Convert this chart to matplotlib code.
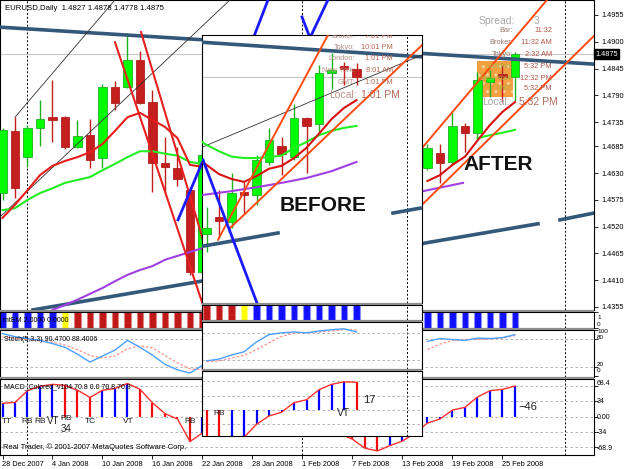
import numpy as np
import matplotlib
matplotlib.use("Agg")
import matplotlib.pyplot as plt
from matplotlib.patches import Rectangle

plt.rcParams['font.family'] = ['Liberation Sans', 'DejaVu Sans']

nan = np.nan
# ------------------------------------------------------------------ data
title_text = "EURUSD,Daily  1.4827 1.4878 1.4778 1.4875"
date_labels = ["28 Dec 2007", "4 Jan 2008", "10 Jan 2008", "16 Jan 2008", "22 Jan 2008",
               "28 Jan 2008", "1 Feb 2008", "7 Feb 2008", "13 Feb 2008", "19 Feb 2008", "25 Feb 2008"]
date_label_bars = [0, 4, 8, 12, 16, 20, 24, 28, 32, 36, 40]
month_separator_bars = [2, 24, 45]
price_ticks = [1.4955, 1.4900, 1.4845, 1.4790, 1.4735, 1.4685, 1.4630, 1.4575, 1.4520, 1.4465, 1.4410, 1.4355]
last_price = 1.4875

# main chart (AFTER): daily bars 28 Dec 2007 .. 26 Feb 2008 (bars hidden by the inset left empty)
main_open = [1.4589, 1.4717, 1.4663, 1.4723, 1.4745, 1.4745, 1.4684, 1.4709, 1.4661, 1.4807, 1.4807, 1.4863,
             1.4776, 1.4651, 1.4641, 1.4595, 1.4427] + [nan] * 17 + \
            [1.4641, 1.4671, 1.4653, 1.4727, 1.4713, 1.4817, 1.4834, 1.4827]
main_high = [1.4723, 1.4745, 1.4729, 1.4780, 1.4821, 1.4748, 1.4739, 1.4741, 1.4813, 1.4819, 1.4918, 1.4880,
             1.4801, 1.4704, 1.4684, 1.4602, 1.4678] + [nan] * 17 + \
            [1.4689, 1.4690, 1.4756, 1.4733, 1.4838, 1.4842, 1.4852, 1.4878]
main_low = [1.4575, 1.4579, 1.4643, 1.4686, 1.4694, 1.4680, 1.4682, 1.4641, 1.4641, 1.4760, 1.4805, 1.4772,
            1.4591, 1.4591, 1.4604, 1.4421, 1.4421] + [nan] * 17 + \
           [1.4636, 1.4610, 1.4647, 1.4673, 1.4702, 1.4787, 1.4776, 1.4778]
main_close = [1.4719, 1.4599, 1.4723, 1.4741, 1.4739, 1.4684, 1.4707, 1.4657, 1.4807, 1.4774, 1.4863, 1.4774,
              1.4651, 1.4643, 1.4618, 1.4427, 1.4667] + [nan] * 17 + \
             [1.4682, 1.4651, 1.4727, 1.4713, 1.4822, 1.4826, 1.4828, 1.4875]

red_ma_x = list(range(0, 17))
red_ma_y = [1.4538, 1.4565, 1.4595, 1.4626, 1.4645, 1.4655, 1.4663, 1.4673, 1.4690, 1.4717, 1.4745, 1.4754,
            1.4739, 1.4725, 1.4702, 1.4647, 1.4643]
red_ma2_x = list(range(34, 42))
red_ma2_y = [1.4614, 1.4626, 1.4647, 1.4664, 1.4697, 1.4729, 1.4756, 1.4776]
green_ma_x = list(range(0, 17))
green_ma_y = [1.4554, 1.4558, 1.4575, 1.4589, 1.4599, 1.4610, 1.4616, 1.4622, 1.4636, 1.4649, 1.4663, 1.4675,
              1.4675, 1.4670, 1.4666, 1.4653, 1.4649]
green_ma2_x = [38, 39, 40, 41]
green_ma2_y = [1.4702, 1.4708, 1.4713, 1.4719]
purple_ma_x = list(range(4, 17))
purple_ma_y = [1.4349, 1.4359, 1.4370, 1.4382, 1.4394, 1.4408, 1.4421, 1.4431, 1.4439, 1.4452, 1.4460, 1.4468, 1.4476]
purple_ma2_x = [33.64, 36.84]
purple_ma2_y = [1.4593, 1.4610]

trend_top_x = [-0.2, 47.32];      trend_top_y = [1.4930, 1.4854]
trend_low_x = [2.44, 42.84];      trend_low_y = [1.4349, 1.4526]
trend_low2_x = [44.6, 47.32];     trend_low2_y = [1.4534, 1.4548]
thin1_x = [1.0, 9.0];             thin1_y = [1.4745, 1.4986]
thin2_x = [-0.2, 18.2];           thin2_y = [1.4540, 1.4986]
steep1_x = [9.0, 16.04];          steep1_y = [1.4899, 1.4359]
steep2_x = [11.08, 16.04];        steep2_y = [1.4920, 1.4493]
chan1_x = [33.64, 43.56];         chan1_y = [1.4684, 1.4986]
chan2_x = [33.56, 47.32];         chan2_y = [1.4565, 1.4912]
zig1_x = [14.04, 15.96];          zig1_y = [1.4534, 1.4651]
zig2_x = [19.4, 21.24];           zig2_y = [1.4863, 1.4986]
zig3_x = [23.96, 24.6, 26.04];    zig3_y = [1.4951, 1.4908, 1.4986]
box_bars = [38.0, 40.84];         box_prices = [1.4787, 1.4860]

main_mtem = ['B'] * 5 + ['Y'] + ['R'] * 11 + [''] * 17 + ['B'] * 8
main_stoch_k = [93, 86, 82, 78, 71, 63, 48, 31, 44, 57, 78, 63, 46, 26, 14, 7, 24] + [nan] * 17 + \
               [76, 82, 80, 78, 83, 82, 84, 90.47]
main_stoch_d = [85, 83, 80, 77, 74, 68, 58, 45, 40, 44, 60, 66, 62, 45, 29, 16, 15] + [nan] * 17 + \
               [58, 70, 78, 80, 80, 81, 83, 88.40]
main_macd = [30, 32, 58, 68, 72, 70, 59, 43, 59, 63, 74, 61, 31, 7, -5, -55, -36] + [nan] * 10 + \
            [-38, -50, -70, -76, -64, -54, -36, -14, -5, 15, 21, 44, 58, 61, 68.4]
main_macd_col = list("BBBBBRRRBBBRRRRRB") + [''] * 10 + list("RRRRBBBBBBBBBBB")

# inset (BEFORE): 13 daily bars
ins_open = [1.4505, 1.4540, 1.4530, 1.4591, 1.4585, 1.4653, 1.4686, 1.4663, 1.4743, 1.4731, 1.4836, 1.4850, 1.4844]
ins_high = [1.4560, 1.4595, 1.4630, 1.4612, 1.4667, 1.4723, 1.4704, 1.4772, 1.4745, 1.4852, 1.4877, 1.4858, 1.4856]
ins_low = [1.4468, 1.4497, 1.4517, 1.4548, 1.4565, 1.4647, 1.4626, 1.4657, 1.4630, 1.4712, 1.4803, 1.4811, 1.4811]
ins_close = [1.4517, 1.4532, 1.4589, 1.4585, 1.4657, 1.4698, 1.4669, 1.4743, 1.4727, 1.4836, 1.4842, 1.4844, 1.4828]
ins_ma_x = [-0.36] + list(range(0, 13))
ins_red_y = [1.4653, 1.4647, 1.4628, 1.4618, 1.4612, 1.4624, 1.4639, 1.4645, 1.4661, 1.4682, 1.4711, 1.4741, 1.4764, 1.4780]
ins_green_y = [1.4694, 1.4688, 1.4675, 1.4664, 1.4661, 1.4661, 1.4663, 1.4666, 1.4682, 1.4694, 1.4708, 1.4717, 1.4723, 1.4727]
ins_purple_x = [-0.36, 2, 4, 6, 8, 10, 12]
ins_purple_y = [1.4585, 1.4593, 1.4601, 1.4610, 1.4620, 1.4634, 1.4653]
ins_top_x = [-0.36, 17.24];   ins_top_y = [1.4899, 1.4869]
ins_thin_x = [-0.28, 17.24];  ins_thin_y = [1.4684, 1.4873]
ins_chanA_x = [0.92, 9.72];   ins_chanA_y = [1.4493, 1.4914]
ins_chanB_x = [1.88, 17.24];  ins_chanB_y = [1.4517, 1.4893]
ins_low_x = [-0.28, 5.72];    ins_low_y = [1.4480, 1.4507]
ins_low2_x = [14.92, 17.08];  ins_low2_y = [1.4548, 1.4558]
ins_blue_x = [-0.28, 4.04];   ins_blue_y = [1.4657, 1.4363]
ins_separator_bar = 16
ins_mtem = ['R'] * 3 + ['Y'] + ['B'] * 9
ins_stoch_k = [18, 22, 31, 38, 60, 76, 80, 82, 80, 84, 87, 89, 82]
ins_stoch_d = [16, 18, 24, 30, 43, 58, 72, 79, 81, 82, 84, 87, 86]
ins_macd = [-70, -70, -68, -66, -35, -15, -6, 17, 24, 48, 61, 67, 66]
ins_macd_col = list("RRBBBBBBBBBBR")

# ------------------------------------------------------------------ styles
W, H = 625, 469
BULL, BULL_EDGE = '#00ff00', '#1fb01f'
BEAR, BEAR_EDGE = '#c41e1e', '#b02020'
COLS = {'B': '#1010ff', 'R': '#c01818', 'Y': '#ffff00'}
MCOLS = {'B': '#0000ff', 'R': '#ee1010'}
GRID = dict(color='#a8a8a8', lw=0.6, ls=(0, (3, 3)))
SEP = dict(color='black', lw=0.7, ls=(0, (2, 2)))

fig = plt.figure(figsize=(W / 100, H / 100), dpi=100)
fig.patch.set_facecolor('white')


def px_axes(x0, y0, x1, y1, z=0):
    ax = fig.add_axes([x0 / W, 1 - y1 / H, (x1 - x0) / W, (y1 - y0) / H])
    ax.set_zorder(z)
    ax.set_xticks([]); ax.set_yticks([])
    for s in ax.spines.values():
        s.set_linewidth(0.8); s.set_color('black')
    ax.set_facecolor('white')
    return ax


def band(x0, y0, x1, y1, z):
    fig.add_artist(Rectangle((x0 / W, 1 - y1 / H), (x1 - x0) / W, (y1 - y0) / H,
                             transform=fig.transFigure, facecolor='#8c8c8c', edgecolor='none', zorder=z))


def ftext(x, y, s, z=3, **kw):
    kw.setdefault('va', 'center')
    kw.setdefault('ha', 'left')
    kw.setdefault('fontsize', 5.3)
    return fig.text(x / W, 1 - y / H, s, zorder=z, **kw)


def candles(ax, o, h, l, c, width=0.66):
    for x, oo, hh, ll, cc in zip(range(len(o)), o, h, l, c):
        if np.isnan(oo):
            continue
        up = cc >= oo
        ax.vlines(x, ll, hh, color=BULL_EDGE if up else BEAR, lw=1.0, zorder=3)
        ax.add_patch(Rectangle((x - width / 2, min(oo, cc)), width, max(abs(cc - oo), 0.0003),
                               facecolor=BULL if up else BEAR, edgecolor=BULL_EDGE if up else BEAR_EDGE,
                               lw=0.6, zorder=4))


def mtem(ax, cols):
    for x, c in enumerate(cols):
        if c:
            ax.bar(x, 1, width=0.5, bottom=0, color=COLS[c], edgecolor='#8c8cff' if c == 'B' else
                   ('#e08080' if c == 'R' else '#ffff80'), lw=0.8)


def macd(ax, vals, cols):
    for x, (v, c) in enumerate(zip(vals, cols)):
        if c and not np.isnan(v):
            ax.vlines(x, 0, v, color=MCOLS[c], lw=1.6, zorder=3)
    ax.plot(range(len(vals)), vals, color='#ff3030', lw=1.0, zorder=4)


# ------------------------------------------------------------------ main chart
XL = (-0.2, 47.32)
axp = px_axes(0, 0, 594, 310)
axm = px_axes(0, 312, 594, 328)
axs = px_axes(0, 330, 594, 377)
axc = px_axes(0, 379, 594, 455)
for a in (axp, axm, axs, axc):
    a.set_xlim(*XL)
    for b in month_separator_bars:
        a.axvline(b, **SEP, zorder=1)
band(0, 310, 594, 312, 1); band(0, 328, 594, 330, 1); band(0, 377, 594, 379, 1)

axp.set_ylim(1.43488, 1.49858)
axp.add_patch(Rectangle((box_bars[0], box_prices[0]), box_bars[1] - box_bars[0], box_prices[1] - box_prices[0],
                        facecolor='#f5a040', edgecolor='#fbcf98', hatch='..', lw=0, zorder=2))
axp.axhline(last_price, color='#c8c8c8', lw=0.8, zorder=2)
candles(axp, main_open, main_high, main_low, main_close)
axp.plot(trend_top_x, trend_top_y, color='#34587a', lw=2.6, zorder=5)
axp.plot(trend_low_x, trend_low_y, color='#34587a', lw=2.6, zorder=5)
axp.plot(trend_low2_x, trend_low2_y, color='#34587a', lw=2.6, zorder=5)
axp.plot(thin1_x, thin1_y, color='#303030', lw=0.6, zorder=5)
axp.plot(thin2_x, thin2_y, color='#303030', lw=0.6, zorder=5)
axp.plot(purple_ma_x, purple_ma_y, color='#a040e0', lw=1.5, zorder=5)
axp.plot(purple_ma2_x, purple_ma2_y, color='#a040e0', lw=1.5, zorder=5)
axp.plot(green_ma_x, green_ma_y, color='#22ee22', lw=1.5, zorder=5)
axp.plot(green_ma2_x, green_ma2_y, color='#22ee22', lw=1.5, zorder=5)
axp.plot(red_ma_x, red_ma_y, color='#e81c1c', lw=1.5, zorder=5)
axp.plot(red_ma2_x, red_ma2_y, color='#d81010', lw=1.5, zorder=5)
axp.plot(steep1_x, steep1_y, color='#e82020', lw=1.5, zorder=5)
axp.plot(steep2_x, steep2_y, color='#e82020', lw=1.5, zorder=5)
axp.plot(chan1_x, chan1_y, color='#ff4a10', lw=1.4, zorder=5)
axp.plot(chan2_x, chan2_y, color='#ff4a10', lw=1.4, zorder=5)
for zx, zy in ((zig1_x, zig1_y), (zig2_x, zig2_y), (zig3_x, zig3_y)):
    axp.plot(zx, zy, color='#1a1aff', lw=2.0, zorder=5)
axp.yaxis.tick_right()
axp.set_yticks(price_ticks)
axp.set_yticklabels(["%.4f" % p for p in price_ticks])
axp.tick_params(axis='y', direction='out', length=3, width=0.6, pad=2, labelsize=5.3)

axm.set_ylim(0, 1)
mtem(axm, main_mtem)
axs.set_ylim(-1.5, 100.6)
axs.axhline(80, **GRID); axs.axhline(20, **GRID)
axs.plot(range(42), main_stoch_d, color='#ff9090', lw=0.9, ls=(0, (2, 1.5)), zorder=3)
axs.plot(range(42), main_stoch_k, color='#4aa0ff', lw=1.0, zorder=4)
axc.set_ylim(-85, 84)
for lv in (68, 34, 0, -34, -68):
    axc.axhline(lv, **GRID)
macd(axc, main_macd, main_macd_col)
axc.set_xticks(date_label_bars)
axc.set_xticklabels(date_labels)
axc.tick_params(axis='x', direction='out', length=3, width=0.6, pad=1.5, labelsize=5.3)
for t in axc.get_xticklabels():
    t.set_ha('left')
for a in (axm, axs, axc):
    a.yaxis.tick_right()
axs.set_yticks([0, 20, 80, 100]); axs.set_yticklabels([])
axc.set_yticks([68, 34, 0, -34, -68]); axc.set_yticklabels([])
axm.set_yticks([0, 1]); axm.set_yticklabels([])
for a in (axm, axs, axc):
    a.tick_params(axis='y', direction='out', length=3, width=0.6)

# right labels of the indicator windows
for (y, s, fs) in ((317, "1", 4.6), (324, "0", 4.6), (331, "100", 4.6), (337.5, "80", 4.6), (364.5, "20", 4.6),
                   (371, "0", 4.6), (383, "68.4", 5.0), (401, "34", 5.0), (417, "0.00", 5.0),
                   (432, "-34", 5.0), (448, "-68.9", 5.0)):
    ftext(597, y, s, fontsize=fs)
ftext(595, 54, "1.4875", color='white', fontsize=5.3,
      bbox=dict(boxstyle='square,pad=0.15', facecolor='black', edgecolor='black'))

# texts of the main chart
ftext(5, 8, title_text, fontsize=5.6)
ftext(3, 320, "mtEM 2.0000 0.0000", fontsize=5.0)
ftext(4, 339, "Stoch(5,3,3) 90.4700 88.4006", fontsize=5.0)
ftext(4, 387, "MACD_Colored_v104 70.8 0.0 70.8 70.8", fontsize=5.0)
ftext(3, 447, "Real Trader, \u00a9 2001-2007 MetaQuotes Software Corp.", fontsize=5.4)
for (x, y, s, fs) in ((2, 421, "TT", 6), (21, 421, "RB", 6), (34, 421, "RB", 6), (46.5, 421, "VT", 7),
                      (60, 418, "RB", 6), (61, 428.5, "34", 7), (85, 421, "TC", 6), (123, 421, "VT", 6),
                      (184, 421, "RB", 6), (518, 407, "\u221246", 8)):
    ftext(x, y, s, fontsize=fs, color='#202020')
ftext(498, 165, "AFTER", ha='center', fontsize=15, fontweight='bold', color='#111111')

LBL, VAL, LGR = '#9a7a70', '#b05848', '#a8b848'
ftext(479, 21, "Spread:", fontsize=7.5, color='#a8a8a8')
ftext(534, 21, "3", fontsize=7.5, color='#a8a8a8')
for (y, lab, val, lc) in ((31, "Bar:", "11:32", LBL), (43, "Broker:", "11:32 AM", LBL),
                          (54, "Tokyo:", "2:32 AM", LBL), (66, "London:", "5:32 PM", LGR),
                          (78, "New York:", "12:32 PM", LGR), (89, "GMT:", "5:32 PM", LGR)):
    ftext(513, y, lab, ha='right', fontsize=5.3, color=lc)
    ftext(552, y, val, ha='right', fontsize=5.3, color=VAL)
ftext(510, 102, "Local:", ha='right', fontsize=7.5, color='#a8a8a8')
ftext(558, 102, "5:32 PM", ha='right', fontsize=7.5, color='#b07060')

# ------------------------------------------------------------------ inset (BEFORE)
IXL = (-0.36, 17.24)
bp = px_axes(202, 35, 422, 303, 5)
bm = px_axes(202, 305, 422, 320, 5)
bs = px_axes(202, 322, 422, 369, 5)
bc = px_axes(202, 371, 422, 436, 5)
for a in (bp, bm, bs, bc):
    a.set_xlim(*IXL)
    a.axvline(ins_separator_bar, **SEP, zorder=1)
band(202, 303, 422, 305, 6); band(202, 320, 422, 322, 6); band(202, 369, 422, 371, 6)

bp.set_ylim(1.43631, 1.49139)
bp.axhline(ins_close[-1], color='#c8c8c8', lw=0.8, zorder=2)
candles(bp, ins_open, ins_high, ins_low, ins_close)
bp.plot(ins_top_x, ins_top_y, color='#34587a', lw=2.6, zorder=5)
bp.plot(ins_low_x, ins_low_y, color='#34587a', lw=2.6, zorder=5)
bp.plot(ins_low2_x, ins_low2_y, color='#34587a', lw=2.6, zorder=5)
bp.plot(ins_thin_x, ins_thin_y, color='#303030', lw=0.6, zorder=5)
bp.plot(ins_purple_x, ins_purple_y, color='#a040e0', lw=1.5, zorder=5)
bp.plot(ins_ma_x, ins_green_y, color='#22ee22', lw=1.5, zorder=5)
bp.plot(ins_ma_x, ins_red_y, color='#d81010', lw=1.5, zorder=5)
bp.plot(ins_chanA_x, ins_chanA_y, color='#ff4a10', lw=1.4, zorder=5)
bp.plot(ins_chanB_x, ins_chanB_y, color='#ff4a10', lw=1.4, zorder=5)
bp.plot(ins_blue_x, ins_blue_y, color='#1a1aff', lw=2.0, zorder=5)
bp.text((323 - 202) / 220, (303 - 205) / 268, "BEFORE", transform=bp.transAxes, ha='center', va='center',
        fontsize=15, fontweight='bold', color='#111111', zorder=6)


def ins_text(x, y, s, **kw):
    kw.setdefault('fontsize', 5.3)
    kw.setdefault('va', 'center')
    bp.text((x - 202) / 220, (303 - y) / 268, s, transform=bp.transAxes, zorder=6, clip_on=True, **kw)


for (y, lab, val) in ((36, "Broker:", "7:01 PM"), (47, "Tokyo:", "10:01 PM"), (58, "London:", "1:01 PM"),
                      (70, "New York:", "8:01 AM"), (82, "GMT:", "1:01 PM")):
    ins_text(355, y, lab, ha='right', color='#b89088')
    ins_text(393, y, val, ha='right', color='#b86858')
ins_text(357, 95, "Local:", ha='right', fontsize=7.5, color='#b89088')
ins_text(400, 95, "1:01 PM", ha='right', fontsize=7.5, color='#b86858')

bm.set_ylim(0, 1)
mtem(bm, ins_mtem)
bs.set_ylim(0, 104)
bs.axhline(80, **GRID); bs.axhline(20, **GRID)
bs.plot(range(13), ins_stoch_d, color='#ff9090', lw=0.9, ls=(0, (2, 1.5)), zorder=3)
bs.plot(range(13), ins_stoch_k, color='#4aa0ff', lw=1.0, zorder=4)
bc.set_ylim(-63, 93)
for lv in (68, 34, 0, -34):
    bc.axhline(lv, **GRID)
macd(bc, ins_macd, ins_macd_col)
for (x, y, s, fs) in ((213, 413, "RB", 6), (337, 413, "VT", 7.5), (363, 400, "17", 8)):
    bc.text((x - 202) / 220, (436 - y) / 65, s, transform=bc.transAxes, fontsize=fs, va='center',
            color='#202020', zorder=6)

fig.savefig("out.png", dpi=100, facecolor='white')
